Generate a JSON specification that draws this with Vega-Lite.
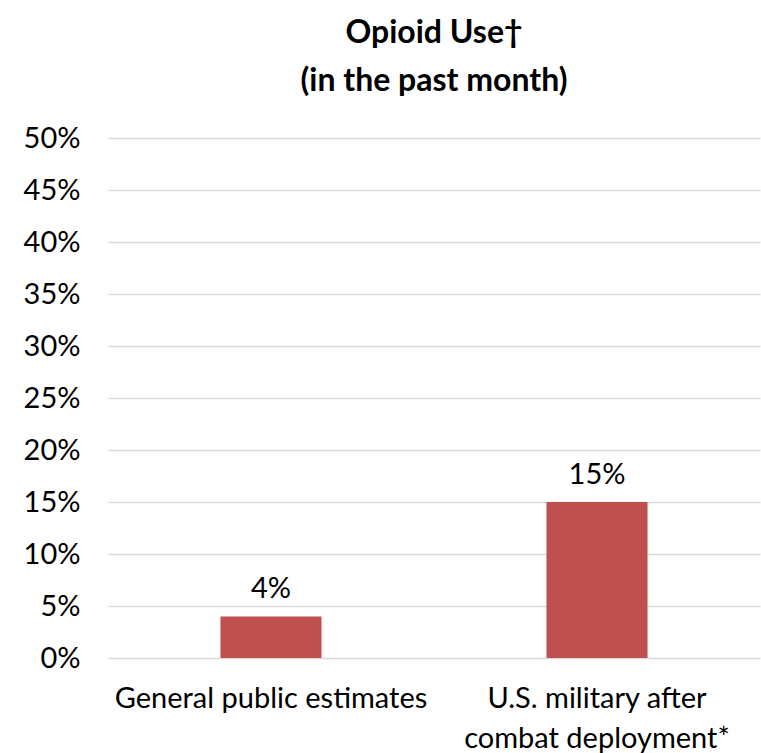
{
  "$schema": "https://vega.github.io/schema/vega-lite/v6.json",
  "width": 652,
  "height": 520,
  "autosize": "none",
  "padding": {"left": 108, "top": 138, "right": 1, "bottom": 95},
  "background": "white",
  "config": {"font": "Lato", "view": {"stroke": null}},
  "title": {
    "text": ["Opioid Use†", "(in the past month)"],
    "fontSize": 32,
    "fontWeight": "bold",
    "font": "Lato",
    "color": "black",
    "anchor": "middle",
    "lineHeight": 48,
    "offset": 26
  },
  "data": {
    "values": [
      {"group": "General public estimates", "value": 0.04},
      {"group": "U.S. military after|combat deployment*", "value": 0.15}
    ]
  },
  "encoding": {
    "x": {
      "field": "group",
      "type": "nominal",
      "sort": null,
      "scale": {"paddingInner": 0.69, "paddingOuter": 0.345},
      "axis": {
        "title": null,
        "labelAngle": 0,
        "labelFontSize": 29,
        "labelColor": "black",
        "labelFont": "Lato",
        "labelExpr": "split(datum.label, '|')",
        "labelLineHeight": 40,
        "labelPadding": 26,
        "ticks": false,
        "domain": false,
        "labelLimit": 400
      }
    },
    "y": {
      "field": "value",
      "type": "quantitative",
      "scale": {"domain": [0, 0.5]},
      "axis": {
        "title": null,
        "format": ".0%",
        "values": [0, 0.05, 0.1, 0.15, 0.2, 0.25, 0.3, 0.35, 0.4, 0.45, 0.5],
        "labelFontSize": 29,
        "labelColor": "black",
        "labelFont": "Lato",
        "labelPadding": 28,
        "ticks": false,
        "domain": false,
        "grid": true,
        "gridColor": "#d9d9d9",
        "gridWidth": 1.5
      }
    }
  },
  "layer": [
    {"mark": {"type": "bar", "color": "#C0504D"}},
    {
      "mark": {"type": "text", "fontSize": 29, "font": "Lato", "color": "black", "baseline": "alphabetic", "dy": -18},
      "encoding": {"text": {"field": "value", "type": "quantitative", "format": ".0%"}}
    }
  ]
}
